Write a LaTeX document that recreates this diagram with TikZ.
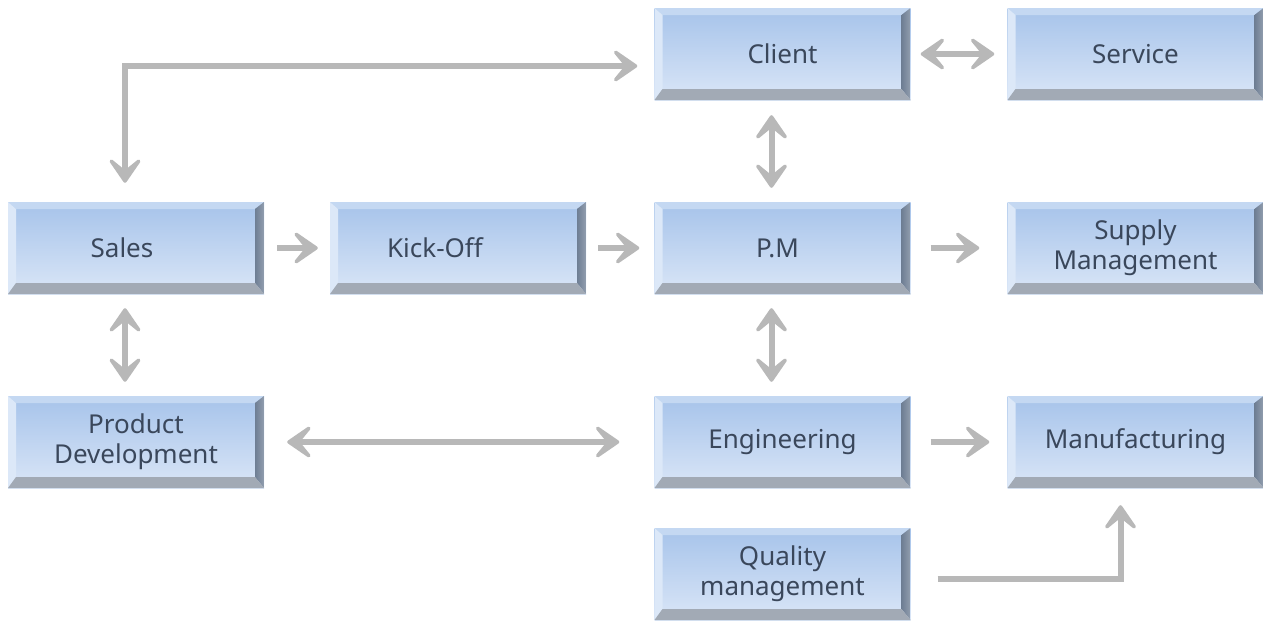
\documentclass[tikz,border=0pt]{standalone}
\usepackage{fontspec}
\setmainfont{Noto Sans}
\usetikzlibrary{arrows.meta,calc}
\definecolor{txt}{HTML}{3A475B}
\definecolor{faceT}{HTML}{A6C3EA}
\definecolor{faceB}{HTML}{DAE6F7}
\definecolor{bevT}{HTML}{C4D8F2}
\definecolor{bevL}{HTML}{DCE8F8}
\definecolor{bevR}{HTML}{6E7E94}
\definecolor{bevB}{HTML}{A2AAB5}
\definecolor{arrc}{HTML}{B8B8B8}
\tikzset{
 bevelbox/.style={minimum width=256pt, minimum height=92pt, inner sep=0pt, align=center,
  text=txt, font=\fontsize{26}{30}\selectfont,
  path picture={
   \coordinate (bbSW) at (path picture bounding box.south west);
   \coordinate (bbNE) at (path picture bounding box.north east);
   \coordinate (bbNW) at (bbSW|-bbNE);
   \coordinate (bbSE) at (bbNE|-bbSW);
   \shade[top color=faceT, bottom color=faceB] (bbSW) rectangle (bbNE);
   \fill[bevT] (bbNW) -- (bbNE) -- ($(bbNE)+(-9pt,-7pt)$) -- ($(bbNW)+(8pt,-7pt)$) -- cycle;
   \fill[bevL] (bbNW) -- ($(bbNW)+(8pt,-7pt)$) -- ($(bbSW)+(8pt,11pt)$) -- (bbSW) -- cycle;
   \shade[left color=bevR, right color=bevR!75!white] (bbNE) -- (bbSE) -- ($(bbSE)+(-9pt,11pt)$) -- ($(bbNE)+(-9pt,-7pt)$) -- cycle;
   \fill[bevB] (bbSW) -- (bbSE) -- ($(bbSE)+(-9pt,11pt)$) -- ($(bbSW)+(8pt,11pt)$) -- cycle;
  }},
 gtip/.tip={Stealth[length=32pt,width=44pt,inset=18pt,round]},
 arr/.style={draw=arrc, line width=6pt, arrows={-gtip}},
 arrb/.style={draw=arrc, line width=6pt, arrows={gtip-gtip}}
}
\begin{document}
\begin{tikzpicture}[x=1pt,y=-1pt]
\useasboundingbox (0,0) rectangle (1263,621);
\node[bevelbox] (client) at (782.5,54) {Client};
\node[bevelbox] (service) at (1135.5,54) {Service};
\node[bevelbox] (sales) at (136,248) {Sales\hspace*{28pt}};
\node[bevelbox] (kickoff) at (458,248) {Kick-Off\hspace*{46pt}};
\node[bevelbox] (pm) at (782.5,248) {P.M\hspace*{10pt}};
\node[bevelbox] (supply) at (1135.5,248) {Supply\\Management};
\node[bevelbox] (prod) at (136,442) {Product\\Development};
\node[bevelbox] (eng) at (782.5,442) {Engineering};
\node[bevelbox] (manuf) at (1135.5,442) {Manufacturing};
\node[bevelbox] (quality) at (782.5,574) {Quality\\management};
% horizontal arrows
\draw[arr, shorten <=13pt, shorten >=12pt] (sales) -- (kickoff);
\draw[arr, shorten <=12pt, shorten >=15pt] (kickoff) -- (pm);
\draw[arr, shorten <=20pt, shorten >=28pt] (pm) -- (supply);
\draw[arr, shorten <=20pt, shorten >=18pt] (eng) -- (manuf);
\draw[arrb, shorten <=10pt, shorten >=13pt] (client) -- (service);
\draw[arrb, shorten <=23pt, shorten >=35pt] (prod) -- (eng);
% vertical arrows
\draw[arrb, shorten <=15pt, shorten >=14pt] ($(client.south)+(-11,0)$) -- ($(pm.north)+(-11,0)$);
\draw[arrb, shorten <=14pt, shorten >=14pt] ($(pm.south)+(-11,0)$) -- ($(eng.north)+(-11,0)$);
\draw[arrb, shorten <=14pt, shorten >=14pt] ($(sales.south)+(-11,0)$) -- ($(prod.north)+(-11,0)$);
% bent connectors
\coordinate (scA) at ($(sales.north)+(-11,-19)$);
\coordinate (scB) at ($(client.west)+(-17,12)$);
\draw[arrb] (scA) |- (scB);
\coordinate (qA) at ($(quality.east)+(27,5)$);
\coordinate (qB) at ($(manuf.south)+(-15,17)$);
\draw[arr] (qA) -| (qB);
\end{tikzpicture}
\end{document}
